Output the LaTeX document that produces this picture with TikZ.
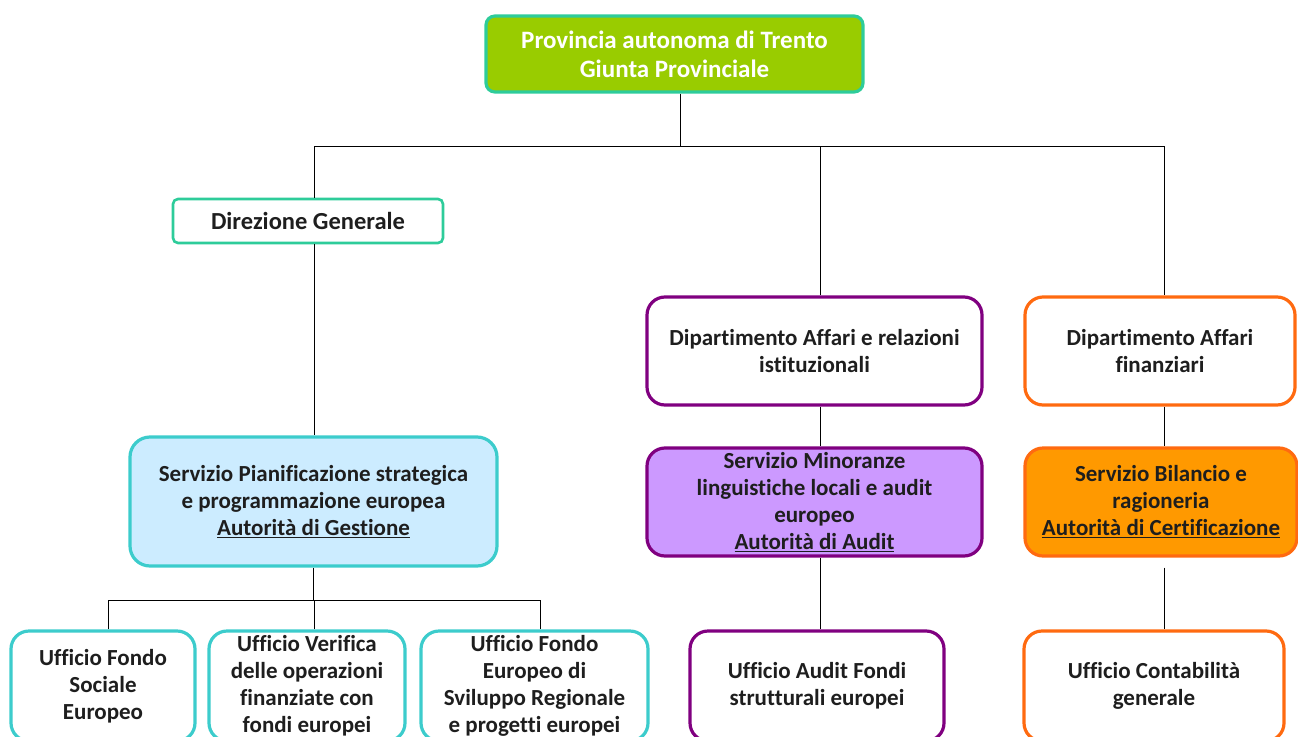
\documentclass[tikz,border=0pt]{standalone}
\usepackage{fontspec}
\setmainfont{Carlito}[Ligatures={NoCommon}]
\definecolor{lime}{HTML}{99CC00}
\definecolor{mint}{HTML}{2ECC9A}
\definecolor{turq}{HTML}{3CCCCC}
\definecolor{lblue}{HTML}{CCECFF}
\definecolor{purp}{HTML}{800080}
\definecolor{lilac}{HTML}{CC99FF}
\definecolor{orng}{HTML}{FF6A10}
\definecolor{ofill}{HTML}{FF9900}
\definecolor{txt}{HTML}{1E1E1E}
\tikzset{
  box/.style={draw, line width=3.2pt, rounded corners=18pt, align=center, inner sep=0pt,
    font=\fontsize{23}{27}\selectfont\bfseries, text=txt},
  topbox/.style={box, draw=mint, fill=lime, rounded corners=9pt, text=white,
    font=\fontsize{25}{29}\selectfont\bfseries},
  dirbox/.style={box, draw=mint, fill=white, rounded corners=5pt, line width=2.6pt,
    font=\fontsize{24.5}{29}\selectfont\bfseries},
  tbox/.style={box, draw=turq, fill=white},
  pbox/.style={box, draw=purp, fill=white},
  obox/.style={box, draw=orng, fill=white},
  conn/.style={draw, line width=1pt, black}
}
\begin{document}
\begin{tikzpicture}[x=1pt,y=-1pt]
\useasboundingbox (0,0) rectangle (1298,736);
\clip (0,0) rectangle (1298,736);
\coordinate (bus) at (0,146);
\coordinate (bus2) at (0,600);

\node[topbox, minimum width=377pt, minimum height=76pt] (top) at (674.5,54)
  {Provincia autonoma di Trento\\Giunta Provinciale};
\node[dirbox, minimum width=270pt, minimum height=44pt] (dir) at (308,221)
  {Direzione Generale};
\node[tbox, fill=lblue, minimum width=367pt, minimum height=129pt, rounded corners=20pt] (serv) at (313.5,501.5)
  {Servizio Pianificazione strategica\\e programmazione europea\\\underline{Autorità di Gestione}};
\node[pbox, minimum width=335pt, minimum height=108pt] (diprel) at (814.5,351)
  {Dipartimento Affari e relazioni\\istituzionali};
\node[obox, minimum width=270pt, minimum height=108pt] (dipfin) at (1160,351)
  {Dipartimento Affari\\finanziari};
\node[pbox, fill=lilac, minimum width=335pt, minimum height=108pt] (servmin) at (814.5,502)
  {Servizio Minoranze\\linguistiche locali e audit\\europeo\\\underline{Autorità di Audit}};
\node[obox, fill=ofill, minimum width=272pt, minimum height=108pt] (servbil) at (1161,502)
  {Servizio Bilancio e\\ragioneria\\\underline{Autorità di Certificazione}};
\node[tbox, minimum width=184pt, minimum height=110pt] (fse) at (103,686)
  {Ufficio Fondo\\Sociale\\Europeo};
\node[tbox, minimum width=196pt, minimum height=110pt] (ver) at (307,686)
  {Ufficio Verifica\\delle operazioni\\finanziate con\\fondi europei};
\node[tbox, minimum width=227pt, minimum height=110pt] (fesr) at (534.5,686)
  {Ufficio Fondo\\Europeo di\\Sviluppo Regionale\\e progetti europei};
\node[pbox, minimum width=254pt, minimum height=110pt] (aud) at (817,686)
  {Ufficio Audit Fondi\\strutturali europei};
\node[obox, minimum width=260pt, minimum height=110pt] (cont) at (1154,686)
  {Ufficio Contabilità\\generale};

\coordinate (ctop) at ([xshift=5.5pt]top.south);
\coordinate (cdir) at ([xshift=6pt]dir.north);
\coordinate (cdirs) at ([xshift=6pt]dir.south);
\coordinate (cserv) at (serv.north);
\coordinate (cservs) at (serv.south);
\coordinate (crel) at ([xshift=5.5pt]diprel.north);
\coordinate (crels) at ([xshift=5.5pt]diprel.south);
\coordinate (cfin) at ([xshift=4pt]dipfin.north);
\coordinate (cfins) at ([xshift=4pt]dipfin.south);
\coordinate (cmin) at ([xshift=5.5pt]servmin.north);
\coordinate (cmins) at ([xshift=5.5pt]servmin.south);
\coordinate (cbil) at ([xshift=3pt]servbil.north);
\coordinate (cbils) at ([xshift=3pt]servbil.south);
\coordinate (cfse) at ([xshift=5pt]fse.north);
\coordinate (cver) at ([xshift=7pt]ver.north);
\coordinate (cfesr) at ([xshift=5.5pt]fesr.north);
\coordinate (caud) at ([xshift=3pt]aud.north);
\coordinate (ccont) at ([xshift=10pt]cont.north);

\draw[conn] (ctop) -- (ctop |- bus);
\draw[conn] (cdir) -- (cdir |- bus) -- (cfin |- bus) -- (cfin);
\draw[conn] (crel) -- (crel |- bus);
\draw[conn] (cdirs) -- (cdirs |- cserv);
\draw[conn] (cservs) -- (cservs |- bus2);
\draw[conn] (cfse) -- (cfse |- bus2) -- (cfesr |- bus2) -- (cfesr);
\draw[conn] (cver) -- (cver |- bus2);
\draw[conn] (crels) -- (crels |- cmin);
\draw[conn] (cfins) -- (cfins |- cbil);
\draw[conn] (cmins) -- (cmins |- caud);
\draw[conn] ([yshift=-10pt]cbils) -- (cbils |- ccont);
\end{tikzpicture}
\end{document}
